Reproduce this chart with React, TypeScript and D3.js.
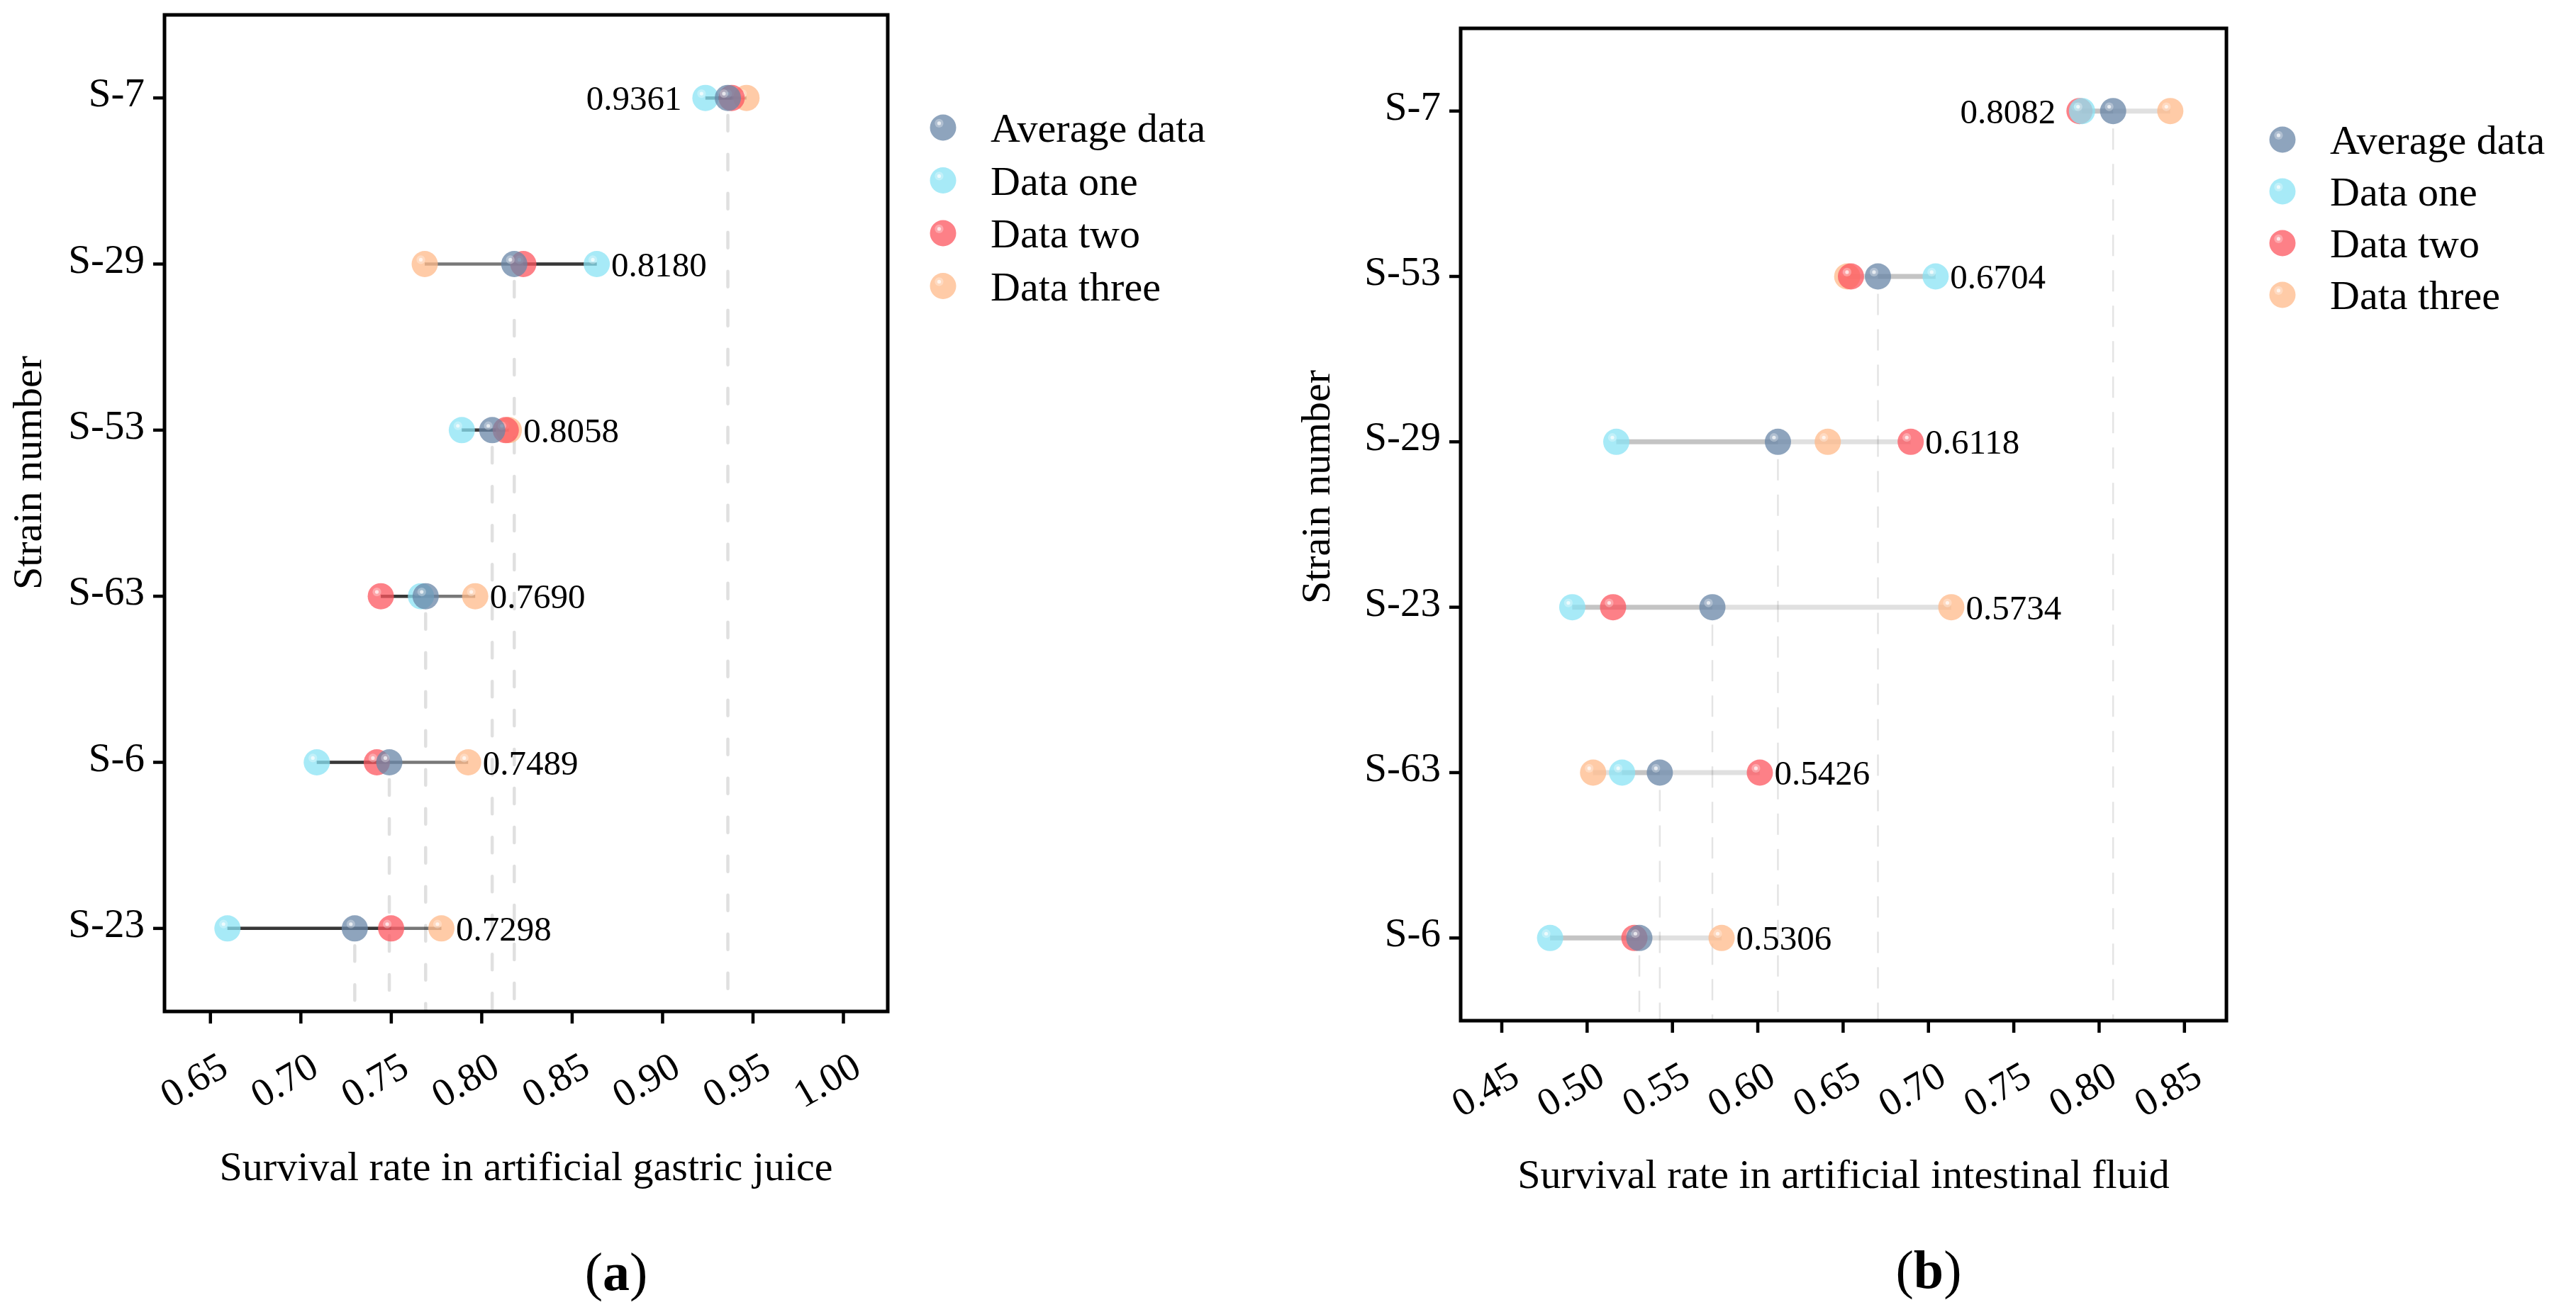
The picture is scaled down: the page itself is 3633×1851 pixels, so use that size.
import { useEffect, useRef } from "react";
import * as d3 from "d3";

// ---- panel (a): artificial gastric juice ----
const gastricStrains = ["S-7", "S-29", "S-53", "S-63", "S-6", "S-23"];
const gastricAverage = [0.9361, 0.818, 0.8058, 0.769, 0.7489, 0.7298];
const gastricOne = [0.9237, 0.8636, 0.789, 0.7664, 0.7088, 0.6594];
const gastricTwo = [0.9382, 0.823, 0.8133, 0.7442, 0.742, 0.7499];
const gastricThree = [0.9464, 0.7685, 0.815, 0.7964, 0.7925, 0.7777];
const gastricTicks = [0.65, 0.7, 0.75, 0.8, 0.85, 0.9, 0.95, 1.0];

// ---- panel (b): artificial intestinal fluid ----
const intestinalStrains = ["S-7", "S-53", "S-29", "S-23", "S-63", "S-6"];
const intestinalAverage = [0.8082, 0.6704, 0.6118, 0.5734, 0.5426, 0.5306];
const intestinalOne = [0.79, 0.7042, 0.5171, 0.4913, 0.5205, 0.4783];
const intestinalTwo = [0.7885, 0.6546, 0.6896, 0.5152, 0.6012, 0.5277];
const intestinalThree = [0.8417, 0.6524, 0.641, 0.7134, 0.5035, 0.5788];
const intestinalTicks = [0.45, 0.5, 0.55, 0.6, 0.65, 0.7, 0.75, 0.8, 0.85];

const legendNames = ["Average data", "Data one", "Data two", "Data three"];

const COLOR_AVG = "#6885A7";
const COLOR_ONE = "#89E3F4";
const COLOR_TWO = "#FC555F";
const COLOR_THREE = "#FFBA8A";
const LEGEND_COLORS = [COLOR_AVG, COLOR_ONE, COLOR_TWO, COLOR_THREE];

const FONT = "'Liberation Serif', 'Times New Roman', serif";
const W = 3633;
const H = 1851;
const R = 18.5;

type Panel = {
  strains: string[];
  avg: number[];
  one: number[];
  two: number[];
  three: number[];
  ticks: number[];
  domain: [number, number];
  box: [number, number, number, number]; // left, right, top, bottom
  xTitle: string;
  xTitleY: number;
  tag: string;
  tagX: number;
  tagY: number;
  yTitleX: number;
  yTitleY: number;
  legendX: number;
  legendY: number;
  legendStep: number;
  dark: boolean;
};

type G = d3.Selection<SVGGElement, unknown, null, undefined>;

function ball(g: G, cx: number, cy: number, color: string) {
  g.append("circle").attr("cx", cx).attr("cy", cy).attr("r", R)
    .attr("fill", color).attr("fill-opacity", 0.75);
  g.append("circle").attr("cx", cx - 0.3 * R).attr("cy", cy - 0.33 * R).attr("r", 0.33 * R)
    .attr("fill", "#fff").attr("fill-opacity", 0.3);
  g.append("circle").attr("cx", cx - 0.3 * R).attr("cy", cy - 0.33 * R).attr("r", 0.14 * R)
    .attr("fill", "#fff").attr("fill-opacity", 0.7);
}

function drawPanel(svg: d3.Selection<SVGSVGElement, unknown, null, undefined>, p: Panel) {
  const [left, right, top, bottom] = p.box;
  const x = d3.scaleLinear().domain(p.domain).range([left, right]);
  const y = d3.scalePoint<string>().domain(p.strains).range([top, bottom]).padding(0.5);
  const g = svg.append("g");

  // dashed guides from each average down to the axis
  g.selectAll("line.guide")
    .data(p.strains)
    .join("line")
    .attr("class", "guide")
    .attr("x1", (_, i) => x(p.avg[i]))
    .attr("x2", (_, i) => x(p.avg[i]))
    .attr("y1", (d) => (y(d) as number) + R + 6)
    .attr("y2", bottom)
    .attr("stroke", p.dark ? "#e0e0e0" : "#e4e4e4")
    .attr("stroke-width", p.dark ? 4.5 : 2.5)
    .attr("stroke-linecap", p.dark ? "round" : "butt")
    .attr("stroke-dasharray", p.dark ? "22 33" : "30 20");

  // connecting lines: full range + one accent segment
  const lineColor = "#000";
  const lineOpacity = p.dark ? 0.53 : 0.12;
  const lineWidth = p.dark ? 4.5 : 7;
  p.strains.forEach((s, i) => {
    const vals = [p.one[i], p.two[i], p.three[i]];
    const cy = y(s) as number;
    g.append("line")
      .attr("x1", x(d3.min(vals) as number)).attr("x2", x(d3.max(vals) as number))
      .attr("y1", cy).attr("y2", cy)
      .attr("stroke", lineColor).attr("stroke-opacity", lineOpacity).attr("stroke-width", lineWidth);
    const accent = p.dark ? p.two[i] : p.avg[i];
    g.append("line")
      .attr("x1", x(p.one[i])).attr("x2", x(accent))
      .attr("y1", cy).attr("y2", cy)
      .attr("stroke", lineColor).attr("stroke-opacity", lineOpacity).attr("stroke-width", lineWidth);
  });

  // balls: three, two, one, average on top
  p.strains.forEach((s, i) => {
    const cy = y(s) as number;
    ball(g, x(p.three[i]), cy, COLOR_THREE);
    ball(g, x(p.two[i]), cy, COLOR_TWO);
    ball(g, x(p.one[i]), cy, COLOR_ONE);
    ball(g, x(p.avg[i]), cy, COLOR_AVG);
  });

  // value labels (first row sits left of its balls)
  const fmt = d3.format(".4f");
  g.selectAll("text.val")
    .data(p.strains)
    .join("text")
    .attr("class", "val")
    .attr("x", (_, i) => {
      const vals = [p.one[i], p.two[i], p.three[i], p.avg[i]];
      return i === 0 ? x(d3.min(vals) as number) - R - 15 : x(d3.max(vals) as number) + R + 2;
    })
    .attr("y", (d) => (y(d) as number) + 17)
    .attr("text-anchor", (_, i) => (i === 0 ? "end" : "start"))
    .attr("font-family", FONT)
    .attr("font-size", 49)
    .attr("fill", "#000")
    .text((_, i) => fmt(p.avg[i]));

  // frame
  g.append("rect")
    .attr("x", left).attr("y", top)
    .attr("width", right - left).attr("height", bottom - top)
    .attr("fill", "none").attr("stroke", "#000").attr("stroke-width", 5);

  // y axis ticks + labels
  g.selectAll("line.ytick")
    .data(p.strains)
    .join("line")
    .attr("class", "ytick")
    .attr("x1", left - 16).attr("x2", left)
    .attr("y1", (d) => y(d) as number).attr("y2", (d) => y(d) as number)
    .attr("stroke", "#000").attr("stroke-width", 4.5);
  g.selectAll("text.ylab")
    .data(p.strains)
    .join("text")
    .attr("class", "ylab")
    .attr("x", left - 28)
    .attr("y", (d) => (y(d) as number) + 12)
    .attr("text-anchor", "end")
    .attr("font-family", FONT)
    .attr("font-size", 57)
    .text((d) => d);

  // x axis ticks + rotated labels
  g.selectAll("line.xtick")
    .data(p.ticks)
    .join("line")
    .attr("class", "xtick")
    .attr("x1", (d) => x(d)).attr("x2", (d) => x(d))
    .attr("y1", bottom).attr("y2", bottom + 17)
    .attr("stroke", "#000").attr("stroke-width", 4.5);
  g.selectAll("text.xlab")
    .data(p.ticks)
    .join("text")
    .attr("class", "xlab")
    .attr("transform", (d) => `translate(${x(d) + 28},${bottom + 88}) rotate(-30)`)
    .attr("text-anchor", "end")
    .attr("font-family", FONT)
    .attr("font-size", 56)
    .text((d) => d3.format(".2f")(d));

  // axis titles
  g.append("text")
    .attr("x", (left + right) / 2).attr("y", p.xTitleY)
    .attr("text-anchor", "middle")
    .attr("font-family", FONT).attr("font-size", 58)
    .text(p.xTitle);
  g.append("text")
    .attr("transform", `translate(${p.yTitleX},${p.yTitleY}) rotate(-90)`)
    .attr("text-anchor", "middle")
    .attr("font-family", FONT).attr("font-size", 58)
    .text("Strain number");

  // panel tag
  const tag = g.append("text")
    .attr("x", p.tagX).attr("y", p.tagY)
    .attr("text-anchor", "middle")
    .attr("font-family", FONT).attr("font-size", 76);
  tag.append("tspan").text("(");
  tag.append("tspan").attr("font-weight", "bold").text(p.tag);
  tag.append("tspan").text(")");

  // legend
  const leg = g.append("g");
  legendNames.forEach((name, i) => {
    const cy = p.legendY + i * p.legendStep;
    ball(leg, p.legendX, cy, LEGEND_COLORS[i]);
    leg.append("text")
      .attr("x", p.legendX + 67).attr("y", cy + 20)
      .attr("font-family", FONT).attr("font-size", 58)
      .text(name);
  });
}

export default function App() {
  const ref = useRef<SVGSVGElement>(null);

  useEffect(() => {
    if (!ref.current) return;
    const svg = d3.select(ref.current);
    svg.selectAll("*").remove();
    svg.append("rect").attr("width", W).attr("height", H).attr("fill", "#fff");

    drawPanel(svg, {
      strains: gastricStrains,
      avg: gastricAverage,
      one: gastricOne,
      two: gastricTwo,
      three: gastricThree,
      ticks: gastricTicks,
      domain: [0.6246, 1.0245],
      box: [232, 1252, 21, 1427],
      xTitle: "Survival rate in artificial gastric juice",
      xTitleY: 1665,
      tag: "a",
      tagX: 869,
      tagY: 1820,
      yTitleX: 58,
      yTitleY: 667,
      legendX: 1330,
      legendY: 180,
      legendStep: 74.5,
      dark: true,
    });

    drawPanel(svg, {
      strains: intestinalStrains,
      avg: intestinalAverage,
      one: intestinalOne,
      two: intestinalTwo,
      three: intestinalThree,
      ticks: intestinalTicks,
      domain: [0.4259, 0.8746],
      box: [2060, 3140, 40, 1440],
      xTitle: "Survival rate in artificial intestinal fluid",
      xTitleY: 1676,
      tag: "b",
      tagX: 2720,
      tagY: 1817,
      yTitleX: 1875,
      yTitleY: 687,
      legendX: 3219,
      legendY: 197,
      legendStep: 73,
      dark: false,
    });
  }, []);

  return (
    <svg
      ref={ref}
      width={W}
      height={H}
      style={{ position: "absolute", left: 0, top: 0, display: "block" }}
    />
  );
}
